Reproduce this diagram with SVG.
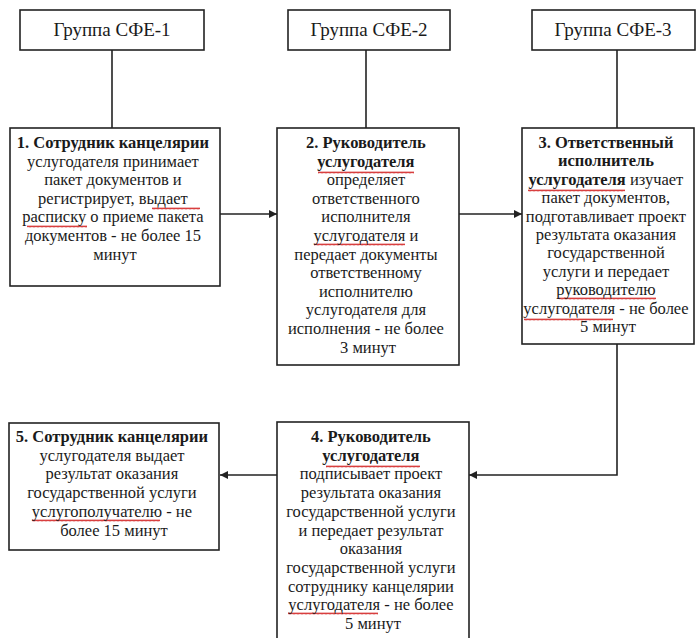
<svg xmlns="http://www.w3.org/2000/svg" width="697" height="638" viewBox="0 0 697 638" font-family="'Liberation Serif','Tinos','Times New Roman','DejaVu Serif','Noto Serif',serif">
<style>
.box{fill:#fff;stroke:#222;stroke-width:1.6}
.ln{fill:none;stroke:#222;stroke-width:1.6}
text{font-family:'Liberation Serif','Tinos','Times New Roman','DejaVu Serif','Noto Serif',serif;font-size:16.5px;fill:#1a1a1a;text-anchor:middle}
.h{font-size:19px}
.b{font-weight:bold}
.sq{fill:url(#wave)}
</style>
<defs>
<marker id="ah" viewBox="0 0 10 10" refX="10" refY="5" markerWidth="9" markerHeight="8" markerUnits="userSpaceOnUse" orient="auto">
<path d="M0,0 L10,5 L0,10 z" fill="#222"/>
</marker>
<pattern id="wave" patternUnits="userSpaceOnUse" x="0" y="0" width="4" height="3">
<path d="M0,2.4 L1,0.6 L2,2.4 L3,0.6 L4,2.4" fill="none" stroke="#d42828" stroke-width="0.9"/>
</pattern>
<clipPath id="c3"><rect x="522" y="128" width="171" height="215"/></clipPath>
</defs>
<rect width="697" height="638" fill="#fff"/>
<g id="connectors">
<line class="ln" x1="112" y1="50" x2="112" y2="128"/>
<line class="ln" x1="366" y1="50" x2="366" y2="128"/>
<line class="ln" x1="617" y1="50" x2="617" y2="128"/>
<line class="ln" x1="220" y1="214" x2="277" y2="214" marker-end="url(#ah)"/>
<line class="ln" x1="459" y1="214" x2="522" y2="214" marker-end="url(#ah)"/>
<polyline class="ln" points="617,344 617,475 469,475" marker-end="url(#ah)"/>
<line class="ln" x1="277" y1="475" x2="220" y2="475" marker-end="url(#ah)"/>
</g>
<g id="h1"><rect class="box" x="20" y="10" width="184" height="40"/><text class="h" x="112" y="36">Группа СФЕ-1</text></g>
<g id="h2"><rect class="box" x="288" y="10" width="162" height="40"/><text class="h" x="369" y="36">Группа СФЕ-2</text></g>
<g id="h3"><rect class="box" x="532" y="10" width="163" height="40"/><text class="h" x="613" y="36">Группа СФЕ-3</text></g>
<g id="s1"><rect class="box" x="10" y="128" width="210" height="158"/>
<rect class="sq" x="152" y="207" width="48" height="3"/>
<rect class="sq" x="27" y="225" width="60" height="3"/>
<text x="115" y="148"><tspan class="b">1. Сотрудник канцелярии</tspan>
<tspan x="115" dy="18.6">услугодателя  принимает</tspan>
<tspan x="115" dy="18.6">пакет документов и</tspan>
<tspan x="115" dy="18.6">регистрирует, выдает</tspan>
<tspan x="115" dy="18.6">расписку о приеме пакета</tspan>
<tspan x="115" dy="18.6">документов  - не более 15</tspan>
<tspan x="115" dy="18.6">минут</tspan></text></g>
<g id="s2"><rect class="box" x="277" y="128" width="182" height="237"/>
<rect class="sq" x="318" y="171" width="96" height="3"/>
<rect class="sq" x="314" y="243" width="91" height="3"/>
<text x="368" y="148"><tspan class="b">2. Руководитель</tspan>
<tspan x="368" dy="18.6" class="b">услугодателя</tspan>
<tspan x="368" dy="18.6">определяет</tspan>
<tspan x="368" dy="18.6">ответственного</tspan>
<tspan x="368" dy="18.6">исполнителя</tspan>
<tspan x="368" dy="18.6">услугодателя и</tspan>
<tspan x="368" dy="18.6">передает документы</tspan>
<tspan x="368" dy="18.6">ответственному</tspan>
<tspan x="368" dy="18.6">исполнителю</tspan>
<tspan x="368" dy="18.6">услугодателя для</tspan>
<tspan x="368" dy="18.6">исполнения - не более</tspan>
<tspan x="368" dy="18.6">3 минут</tspan></text></g>
<g id="s3"><rect class="box" x="522" y="128" width="172" height="216"/>
<rect class="sq" x="528" y="189" width="97" height="3"/>
<rect class="sq" x="559" y="297" width="97" height="3"/>
<rect class="sq" x="524" y="318" width="89" height="3"/>
<text x="608" y="148" clip-path="url(#c3)"><tspan class="b">3. Ответственный</tspan>
<tspan x="608" dy="18.4" class="b">исполнитель</tspan>
<tspan x="608" dy="18.4"><tspan class="b">услугодателя</tspan> изучает</tspan>
<tspan x="608" dy="18.4">пакет документов,</tspan>
<tspan x="608" dy="18.4">подготавливает проект</tspan>
<tspan x="608" dy="18.4">результата оказания</tspan>
<tspan x="608" dy="18.4">государственной</tspan>
<tspan x="608" dy="18.4">услуги и передает</tspan>
<tspan x="608" dy="18.4">руководителю</tspan>
<tspan x="608" dy="18.4">услугодателя - не более</tspan>
<tspan x="608" dy="18.4">5 минут</tspan></text></g>
<g id="s4"><rect class="box" x="277" y="422" width="192" height="224"/>
<rect class="sq" x="326" y="465" width="94" height="3"/>
<rect class="sq" x="288" y="612" width="90" height="3"/>
<text x="373" y="442"><tspan class="b">4. Руководитель</tspan>
<tspan x="373" dy="18.7" class="b">услугодателя</tspan>
<tspan x="373" dy="18.7">подписывает проект</tspan>
<tspan x="373" dy="18.7">результата оказания</tspan>
<tspan x="373" dy="18.7">государственной услуги</tspan>
<tspan x="373" dy="18.7">и передает результат</tspan>
<tspan x="373" dy="18.7">оказания</tspan>
<tspan x="373" dy="18.7">государственной услуги</tspan>
<tspan x="373" dy="18.7">сотруднику канцелярии</tspan>
<tspan x="373" dy="18.7">услугодателя - не более</tspan>
<tspan x="373" dy="18.7">5 минут</tspan></text></g>
<g id="s5"><rect class="box" x="9" y="423" width="210" height="127"/>
<rect class="sq" x="32" y="519" width="128" height="3"/>
<text x="114" y="442"><tspan class="b">5. Сотрудник канцелярии</tspan>
<tspan x="114" dy="18.7">услугодателя  выдает</tspan>
<tspan x="114" dy="18.7">результат оказания</tspan>
<tspan x="114" dy="18.7">государственной услуги</tspan>
<tspan x="114" dy="18.7">услугополучателю - не</tspan>
<tspan x="114" dy="18.7">более 15 минут</tspan></text></g>
</svg>
